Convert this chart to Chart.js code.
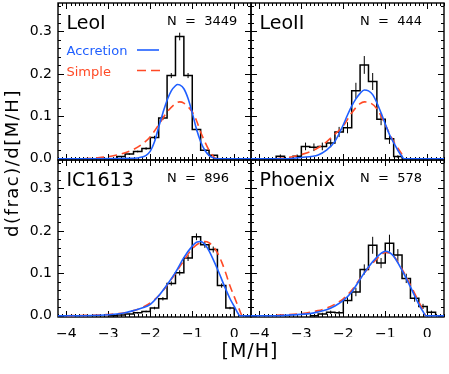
<!DOCTYPE html>
<html>
<head>
<meta charset="utf-8">
<script src="https://cdn.jsdelivr.net/npm/chart.js@4.4.1/dist/chart.umd.min.js"></script>
<style>
  html, body { margin: 0; padding: 0; background: #fff; }
  #wrap { position: relative; width: 449px; height: 374px; }
  #wrap canvas { position: absolute; left: 0; top: 0; }
</style>
</head>
<body>
<div id="wrap">
  <canvas id="c0" width="449" height="374"></canvas>
  <canvas id="c1" width="449" height="374"></canvas>
  <canvas id="c2" width="449" height="374"></canvas>
  <canvas id="c3" width="449" height="374"></canvas>
</div>
<script>
// tick labels
const X_TICKS = [-4, -3, -2, -1, 0];
const Y_TICKS = [0, 0.1, 0.2, 0.3];
const PANEL_NAMES = ['LeoI', 'LeoII', 'IC1613', 'Phoenix'];
const PANEL_N = [3449, 444, 896, 578];

// Leo I : histogram (bin centres, fraction, error) and model curves
const leoIBins = [-2.7, -2.5, -2.3, -2.1, -1.9, -1.7, -1.5, -1.3, -1.1, -0.9, -0.7, -0.5];
const leoIFrac = [0.005, 0.011, 0.017, 0.024, 0.050, 0.096, 0.196, 0.288, 0.196, 0.069, 0.020, 0.008];
const leoIErr  = [0.001, 0.002, 0.002, 0.003, 0.004, 0.005, 0.006, 0.009, 0.006, 0.004, 0.002, 0.001];
const leoIAccX = [-4.2, -2.4, -2.2, -2.1, -2.0, -1.9, -1.8, -1.7, -1.6, -1.5, -1.4, -1.35, -1.3, -1.2, -1.1, -1.0, -0.9, -0.8, -0.7, -0.6, -0.5, -0.4, 0.4];
const leoIAccY = [0, 0.001, 0.004, 0.008, 0.018, 0.040, 0.075, 0.108, 0.138, 0.160, 0.172, 0.175, 0.174, 0.165, 0.142, 0.108, 0.070, 0.040, 0.020, 0.008, 0.002, 0, 0];
const leoISimX = [-3.6, -3.3, -3.0, -2.8, -2.6, -2.4, -2.2, -2.0, -1.8, -1.6, -1.4, -1.3, -1.2, -1.0, -0.9, -0.8, -0.7, -0.6, -0.5, -0.44];
const leoISimY = [0, 0.002, 0.005, 0.009, 0.014, 0.022, 0.034, 0.052, 0.080, 0.110, 0.130, 0.134, 0.131, 0.110, 0.090, 0.063, 0.040, 0.020, 0.006, 0];

// Leo II
const leoIIBins = [-3.5, -3.3, -3.1, -2.9, -2.7, -2.5, -2.3, -2.1, -1.9, -1.7, -1.5, -1.3, -1.1, -0.9, -0.7];
const leoIIFrac = [0.006, 0, 0.006, 0.029, 0.027, 0.029, 0.037, 0.063, 0.073, 0.160, 0.221, 0.182, 0.093, 0.047, 0.005];
const leoIIErr  = [0.004, 0, 0.004, 0.009, 0.009, 0.009, 0.010, 0.012, 0.013, 0.019, 0.021, 0.020, 0.014, 0.012, 0.003];
const leoIIAccX = [-4.2, -3.4, -3.0, -2.6, -2.4, -2.2, -2.0, -1.9, -1.8, -1.7, -1.6, -1.5, -1.4, -1.3, -1.2, -1.1, -1.0, -0.9, -0.8, -0.7, -0.6, -0.55, 0.4];
const leoIIAccY = [0, 0, 0.003, 0.009, 0.020, 0.041, 0.080, 0.103, 0.124, 0.141, 0.154, 0.162, 0.160, 0.151, 0.132, 0.108, 0.082, 0.057, 0.038, 0.020, 0.005, 0, 0];
const leoIISimX = [-3.6, -3.3, -3.0, -2.8, -2.6, -2.4, -2.2, -2.0, -1.8, -1.6, -1.5, -1.4, -1.2, -1.0, -0.8, -0.7, -0.6, -0.55];
const leoIISimY = [0, 0.003, 0.010, 0.016, 0.026, 0.040, 0.058, 0.077, 0.108, 0.130, 0.134, 0.133, 0.118, 0.080, 0.040, 0.025, 0.010, 0];

// IC1613
const ic1613Bins = [-2.7, -2.5, -2.3, -2.1, -1.9, -1.7, -1.5, -1.3, -1.1, -0.9, -0.7, -0.5, -0.3, -0.1];
const ic1613Frac = [0.002, 0.004, 0.007, 0.010, 0.018, 0.040, 0.076, 0.101, 0.136, 0.186, 0.167, 0.156, 0.071, 0.018];
const ic1613Err  = [0.001, 0.001, 0.002, 0.002, 0.003, 0.004, 0.005, 0.006, 0.007, 0.008, 0.007, 0.007, 0.005, 0.003];
const ic1613AccX = [-4.2, -3.6, -3.2, -2.8, -2.6, -2.4, -2.2, -2.0, -1.8, -1.6, -1.4, -1.2, -1.0, -0.9, -0.8, -0.7, -0.6, -0.4, -0.2, -0.1, 0.0, 0.1, 0.13, 0.4];
const ic1613AccY = [0, 0, 0.001, 0.004, 0.007, 0.012, 0.018, 0.027, 0.047, 0.073, 0.102, 0.137, 0.164, 0.173, 0.175, 0.168, 0.153, 0.110, 0.062, 0.040, 0.022, 0.004, 0, 0];
const ic1613SimX = [-4.0, -3.4, -3.0, -2.6, -2.4, -2.2, -2.0, -1.8, -1.6, -1.4, -1.2, -1.0, -0.8, -0.7, -0.6, -0.5, -0.4, -0.3, -0.2, -0.1, 0.0, 0.1, 0.18];
const ic1613SimY = [0, 0.001, 0.003, 0.007, 0.012, 0.019, 0.030, 0.047, 0.072, 0.100, 0.130, 0.158, 0.173, 0.175, 0.172, 0.163, 0.148, 0.127, 0.100, 0.070, 0.045, 0.020, 0];

// Phoenix
const phoenixBins = [-2.5, -2.3, -2.1, -1.9, -1.7, -1.5, -1.3, -1.1, -0.9, -0.7, -0.5, -0.3, -0.1, 0.1];
const phoenixFrac = [0.004, 0.008, 0.007, 0.036, 0.056, 0.109, 0.166, 0.124, 0.171, 0.143, 0.088, 0.041, 0.022, 0.008];
const phoenixErr  = [0.003, 0.004, 0.004, 0.008, 0.010, 0.012, 0.020, 0.012, 0.020, 0.014, 0.011, 0.008, 0.006, 0.004];
const phoenixAccX = [-4.2, -3.6, -3.2, -2.8, -2.6, -2.4, -2.2, -2.0, -1.8, -1.6, -1.4, -1.2, -1.1, -1.0, -0.9, -0.8, -0.6, -0.4, -0.2, -0.1, -0.03, 0.4];
const phoenixAccY = [0, 0, 0.002, 0.005, 0.009, 0.014, 0.023, 0.036, 0.056, 0.086, 0.115, 0.138, 0.147, 0.152, 0.149, 0.140, 0.107, 0.068, 0.027, 0.010, 0, 0];
const phoenixSimX = [-3.6, -3.0, -2.6, -2.4, -2.2, -2.0, -1.8, -1.6, -1.4, -1.2, -1.1, -1.0, -0.9, -0.8, -0.6, -0.4, -0.2, -0.1, -0.04];
const phoenixSimY = [0.001, 0.005, 0.012, 0.018, 0.027, 0.040, 0.060, 0.087, 0.113, 0.134, 0.143, 0.149, 0.148, 0.141, 0.110, 0.072, 0.033, 0.013, 0];

const BLUE = '#1f5fff';
const RED = '#ff4a26';

Chart.defaults.font.family = '"DejaVu Sans", sans-serif';
Chart.defaults.font.size = 14;
Chart.defaults.color = '#000';

function pts(xs, ys) {
  return xs.map((x, i) => ({ x: x, y: ys[i] }));
}

// step outline: each bin holds its value from its left edge to its right edge
function stepPoints(bins, vals) {
  const h = (bins[1] - bins[0]) / 2;
  const out = [{ x: bins[0] - 3 * h, y: 0 }];
  bins.forEach((c, i) => out.push({ x: c - h, y: vals[i] }));
  out.push({ x: bins[bins.length - 1] + h, y: 0 });
  return out;
}

function errPoints(bins, vals, errs) {
  const out = [];
  bins.forEach((c, i) => {
    if (errs[i] > 0) {
      out.push({ x: c, y: vals[i] - errs[i] }, { x: c, y: vals[i] + errs[i] }, { x: c, y: null });
    }
  });
  return out;
}

function panelData(bins, frac, err, accX, accY, simX, simY) {
  return [
    { data: pts(accX, accY), borderColor: BLUE, borderWidth: 1.6, cubicInterpolationMode: 'monotone', order: 1 },
    { data: pts(simX, simY), borderColor: RED, borderWidth: 1.6, borderDash: [8, 5], cubicInterpolationMode: 'monotone', order: 2 },
    { data: errPoints(bins, frac, err), borderColor: '#000', borderWidth: 1, spanGaps: false, order: 3 },
    { data: stepPoints(bins, frac), borderColor: '#000', borderWidth: 1.5, stepped: 'before', order: 4 }
  ];
}

const panelSets = [
  panelData(leoIBins, leoIFrac, leoIErr, leoIAccX, leoIAccY, leoISimX, leoISimY),
  panelData(leoIIBins, leoIIFrac, leoIIErr, leoIIAccX, leoIIAccY, leoIISimX, leoIISimY),
  panelData(ic1613Bins, ic1613Frac, ic1613Err, ic1613AccX, ic1613AccY, ic1613SimX, ic1613SimY),
  panelData(phoenixBins, phoenixFrac, phoenixErr, phoenixAccX, phoenixAccY, phoenixSimX, phoenixSimY)
];

// panel boxes in page pixels
const boxes = [
  { l: 58, t: 3, r: 251, b: 160 },
  { l: 251, t: 3, r: 444, b: 160 },
  { l: 58, t: 160, r: 251, b: 317 },
  { l: 251, t: 160, r: 444, b: 317 }
];

// box with inward major/minor ticks on all four sides
const framePlugin = {
  id: 'frame',
  beforeDatasetsDraw(chart) {
    const { ctx, chartArea: a, scales: { x, y } } = chart;
    ctx.save();
    ctx.strokeStyle = '#000';
    ctx.lineWidth = 1;
    ctx.beginPath();
    for (let i = -42; i <= 4; i++) {
      const px = Math.round(x.getPixelForValue(i / 10)) + 0.5;
      const len = i % 10 === 0 ? 6 : 3;
      ctx.moveTo(px, a.bottom); ctx.lineTo(px, a.bottom - len);
      ctx.moveTo(px, a.top); ctx.lineTo(px, a.top + len);
    }
    for (let j = 0; j <= 18; j++) {
      const py = Math.round(y.getPixelForValue(j * 0.02)) + 0.5;
      const len = j % 5 === 0 ? 6 : 3;
      ctx.moveTo(a.left, py); ctx.lineTo(a.left + len, py);
      ctx.moveTo(a.right, py); ctx.lineTo(a.right - len, py);
    }
    ctx.stroke();
    ctx.lineWidth = 1.4;
    ctx.strokeRect(a.left, a.top, a.right - a.left, a.bottom - a.top);
    ctx.restore();
  },
  afterDatasetsDraw(chart, args, opts) {
    const { ctx, chartArea: a } = chart;
    ctx.save();
    ctx.fillStyle = '#000';
    ctx.textBaseline = 'alphabetic';
    ctx.textAlign = 'left';
    ctx.font = '19px "DejaVu Sans"';
    ctx.fillText(opts.name, a.left + 8.5, a.top + 26);
    ctx.font = '13px "DejaVu Sans"';
    ctx.fillText('N  =  ' + opts.n, a.left + 109, a.top + 22);
    if (opts.legend) {
      ctx.fillStyle = BLUE;
      ctx.fillText('Accretion', a.left + 8.5, a.top + 52);
      ctx.fillStyle = RED;
      ctx.fillText('Simple', a.left + 8.5, a.top + 72.5);
      ctx.lineWidth = 1.6;
      ctx.strokeStyle = BLUE;
      ctx.beginPath(); ctx.moveTo(a.left + 79, a.top + 47); ctx.lineTo(a.left + 101, a.top + 47); ctx.stroke();
      ctx.strokeStyle = RED;
      ctx.setLineDash([9, 5]);
      ctx.beginPath(); ctx.moveTo(a.left + 79, a.top + 67.5); ctx.lineTo(a.left + 102, a.top + 67.5); ctx.stroke();
      ctx.setLineDash([]);
    }
    if (opts.titles) {
      ctx.fillStyle = '#000';
      ctx.textAlign = 'center';
      ctx.textBaseline = 'middle';
      ctx.font = '19px "DejaVu Sans"';
      ctx.letterSpacing = '1px';
      ctx.fillText('[M/H]', 250, 352);
      ctx.translate(13, 163);
      ctx.rotate(-Math.PI / 2);
      ctx.font = '18px "DejaVu Sans"';
      ctx.letterSpacing = '1.5px';
      ctx.fillText('d(frac)/d[M/H]', 0, 0);
    }
    ctx.restore();
  }
};

const fmtX = v => (v < 0 ? '\u2212' + (-v) : String(v));

boxes.forEach((bx, k) => {
  const showY = bx.l < 100;
  const showX = bx.t > 100;
  const xH = showX ? 20 : 0;
  const yW = showY ? 58 : 0;
  new Chart(document.getElementById('c' + k), {
    type: 'line',
    data: { datasets: panelSets[k] },
    plugins: [framePlugin],
    options: {
      responsive: false,
      animation: false,
      events: [],
      layout: {
        autoPadding: false,
        padding: { left: bx.l - yW, right: 449 - bx.r, top: bx.t, bottom: 374 - bx.b - xH }
      },
      elements: { point: { radius: 0 }, line: { fill: false, tension: 0 } },
      plugins: {
        legend: { display: false },
        tooltip: { enabled: false },
        frame: { name: PANEL_NAMES[k], n: PANEL_N[k], legend: k === 0, titles: k === 0 }
      },
      scales: {
        x: {
          type: 'linear', min: -4.2, max: 0.4, display: showX,
          grid: { display: false, drawTicks: false }, border: { display: false },
          ticks: { padding: 9, maxRotation: 0, autoSkip: false, callback: fmtX, font: { size: 14 } },
          afterBuildTicks: s => { s.ticks = X_TICKS.map(v => ({ value: v })); },
          afterFit: s => { s.height = xH; s.paddingLeft = 0; s.paddingRight = 0; }
        },
        y: {
          type: 'linear', min: -0.003, max: 0.367, display: showY,
          grid: { display: false, drawTicks: false }, border: { display: false },
          ticks: { padding: 6, callback: v => v.toFixed(1), font: { size: 14 } },
          afterBuildTicks: s => { s.ticks = Y_TICKS.map(v => ({ value: v })); },
          afterFit: s => { s.width = yW; s.paddingTop = 0; s.paddingBottom = 0; }
        }
      }
    }
  });
});
</script>
</body>
</html>
